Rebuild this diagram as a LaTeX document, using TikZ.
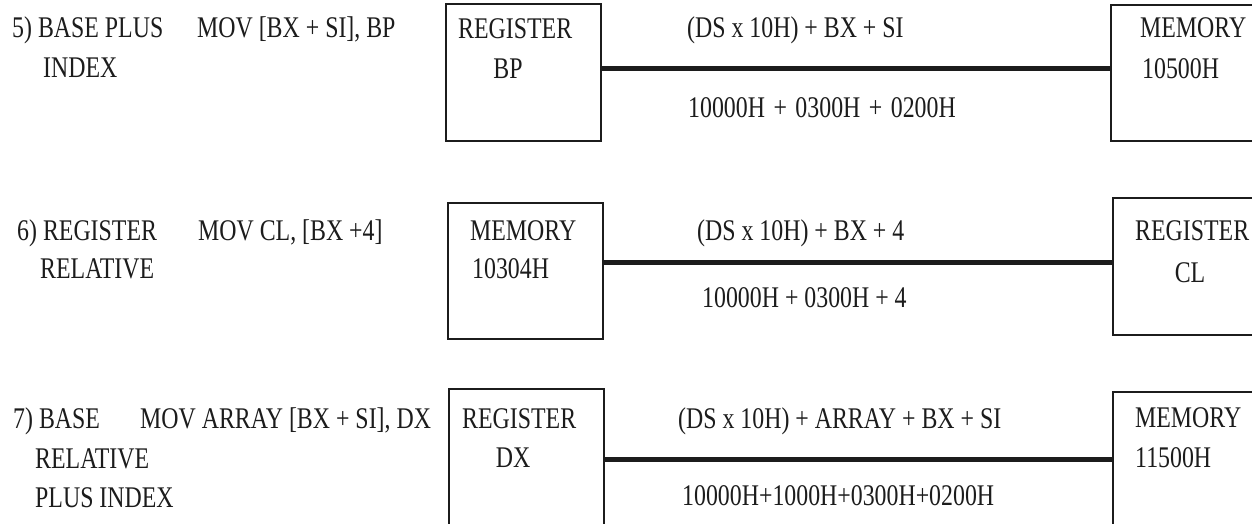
\documentclass[tikz,border=0pt]{standalone}
\usepackage{fontspec}
\setmainfont[FakeStretch=0.795]{Liberation Serif}
\definecolor{ink}{RGB}{28,28,28}
\begin{document}
\begin{tikzpicture}[x=1pt,y=-1pt,
  lbl/.style={anchor=base west, inner sep=0pt, font=\fontsize{30}{35}\selectfont, text=ink},
  ctr/.style={lbl, anchor=base},
  box/.style={draw=ink, line width=1.8pt, inner sep=0pt, minimum width=155pt, anchor=north west},
  conn/.style={draw=ink, line width=5pt}]
\clip (0,0) rectangle (1252,523);
\fill[white] (0,0) rectangle (1252,523);

% ---------- Row 5 ----------
\node[lbl] (t5a) at (12,37) {5) BASE PLUS};
\node[lbl] (t5b) at (43,77) {INDEX};
\node[lbl] (t5c) at (197,37) {MOV [BX + SI], BP};
\node[box, minimum height=137pt] (b5L) at (445,3) {};
\node[box, minimum height=136pt] (b5R) at (1110,4) {};
\node[lbl] (t5d) at (458,38) {REGISTER};
\node[ctr] (t5e) at (508,78) {BP};
\node[lbl] (t5f) at (1140,37) {MEMORY};
\node[lbl] (t5g) at (1142,78) {10500H};
\coordinate (l5) at (0,68);
\draw[conn] (b5L.east |- l5) -- (b5R.west |- l5);
\node[lbl] (t5h) at (687,37) {(DS x 10H) + BX + SI};
\node[lbl] (t5i) at (688,117) {10000H\hspace{8.5pt}+\hspace{8.5pt}0300H\hspace{8.5pt}+\hspace{8.5pt}0200H};

% ---------- Row 6 ----------
\node[lbl] (t6a) at (17,240) {6) REGISTER};
\node[lbl] (t6b) at (40,278) {RELATIVE};
\node[lbl] (t6c) at (198,240) {MOV CL, [BX +4]};
\node[box, minimum height=136pt] (b6L) at (447,202) {};
\node[box, minimum height=137pt] (b6R) at (1112,197) {};
\node[lbl] (t6d) at (470,240) {MEMORY};
\node[lbl] (t6e) at (472,278) {10304H};
\node[lbl] (t6f) at (1135,240) {REGISTER};
\node[ctr] (t6g) at (1190,282) {CL};
\coordinate (l6) at (0,262);
\draw[conn] (b6L.east |- l6) -- (b6R.west |- l6);
\node[lbl] (t6h) at (697,240) {(DS x 10H) + BX + 4};
\node[lbl] (t6i) at (702,307) {10000H + 0300H + 4};

% ---------- Row 7 ----------
\node[lbl] (t7a) at (13,428) {7) BASE};
\node[lbl] (t7b) at (35,468) {RELATIVE};
\node[lbl] (t7c) at (35,507) {PLUS INDEX};
\node[lbl] (t7d) at (140,428) {MOV ARRAY [BX + SI], DX};
\node[box, minimum height=150pt] (b7L) at (448,388) {};
\node[box, minimum height=150pt] (b7R) at (1112,391) {};
\node[lbl] (t7e) at (462,428) {REGISTER};
\node[ctr] (t7f) at (513,467) {DX};
\node[lbl] (t7g) at (1135,427) {MEMORY};
\node[lbl] (t7h) at (1135,467) {11500H};
\coordinate (l7) at (0,459);
\draw[conn] (b7L.east |- l7) -- (b7R.west |- l7);
\node[lbl] (t7i) at (678,428) {(DS x 10H) + ARRAY + BX + SI};
\node[lbl] (t7j) at (682,505) {10000H+1000H+0300H+0200H};
\end{tikzpicture}
\end{document}
